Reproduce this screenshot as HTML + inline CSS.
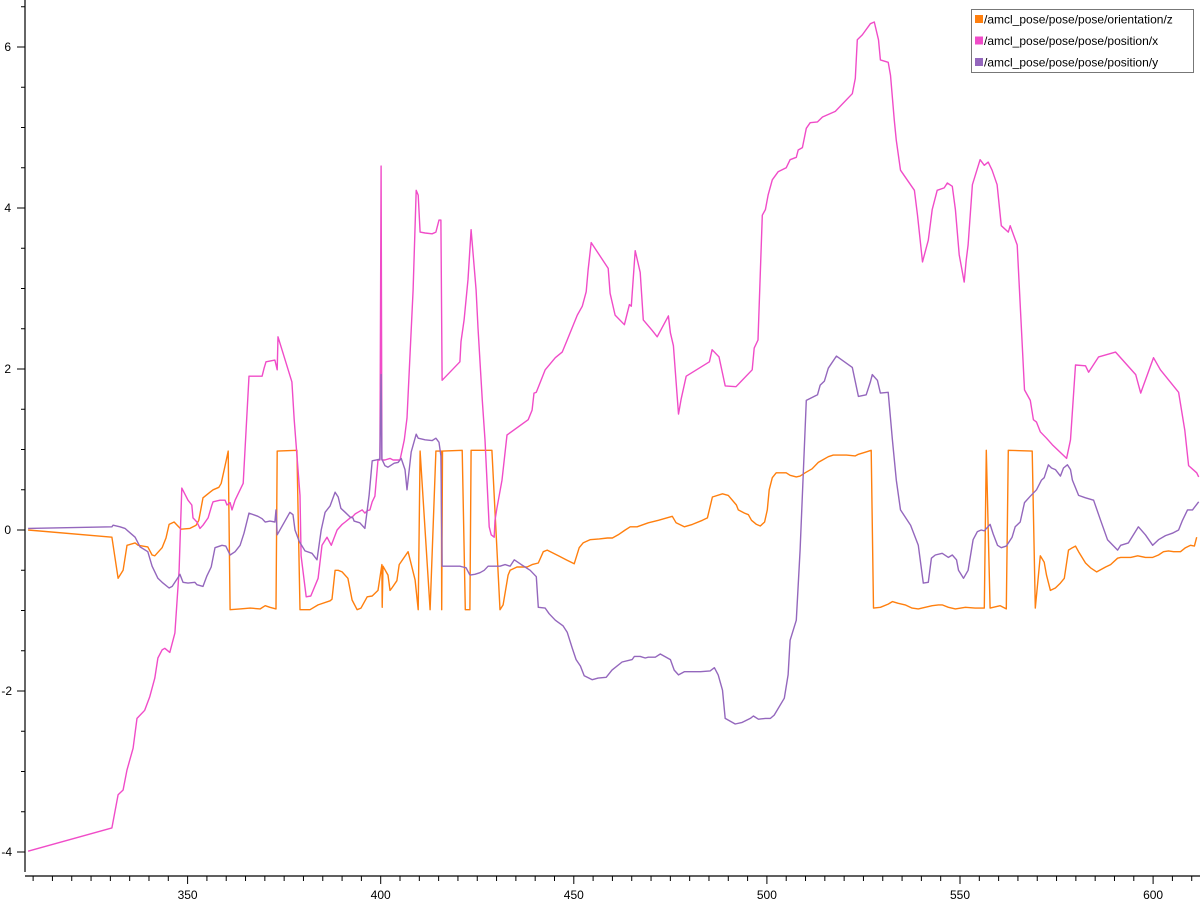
<!DOCTYPE html>
<html><head><meta charset="utf-8"><style>
html,body{margin:0;padding:0;background:#fff;}
svg{display:block;font-family:"Liberation Sans","DejaVu Sans",sans-serif;}
</style></head><body>
<svg id="chart" width="1200" height="900">
<g id="axes"></g>
<g id="series"></g>
<g id="legend"></g>
</svg>
<script>
const xTicksMajor = [350, 400, 450, 500, 550, 600];
const yTicksMajor = [-4, -2, 0, 2, 4, 6];
const seriesNames = ["/amcl_pose/pose/pose/orientation/z", "/amcl_pose/pose/pose/position/x", "/amcl_pose/pose/pose/position/y"];

const ozX = [308.7,330.4,332.0,333.3,334.3,336.4,337.2,339.7,340.8,341.5,343.4,344.4,345.2,346.5,347.5,348.3,350.6,352.2,352.9,354.0,355.8,356.6,358.1,358.7,359.9,360.5,361.0,363.6,366.2,368.8,370.1,371.3,372.9,373.2,378.3,379.1,381.7,383.8,386.9,387.4,388.2,389.0,390.0,391.5,392.6,393.9,394.9,396.5,397.8,399.3,400.3,400.4,400.6,401.9,402.4,402.9,404.2,404.8,407.1,408.9,409.7,410.2,412.8,414.3,415.7,415.8,416.0,421.1,421.9,423.1,423.4,428.8,430.9,431.7,433.0,433.5,435.3,437.9,439.2,440.8,442.1,443.1,446.0,448.0,450.1,451.4,452.4,454.2,456.6,458.7,460.0,461.5,463.3,464.6,466.4,469.3,471.9,475.5,476.5,478.6,480.7,483.3,484.6,485.9,488.5,490.0,492.1,492.6,494.2,495.2,496.0,497.3,498.3,499.4,500.1,500.6,501.4,502.4,505.0,506.0,507.6,508.6,509.9,511.7,513.3,514.4,515.9,517.2,520.6,522.9,523.7,525.7,527.0,527.6,529.4,531.4,532.5,534.0,535.8,537.6,539.2,541.0,542.8,544.4,545.4,547.0,548.8,551.4,553.9,556.3,556.8,557.8,560.4,562.0,562.5,568.7,569.5,570.8,571.8,572.4,573.4,574.7,576.0,577.0,578.1,579.1,579.9,580.7,582.5,583.8,585.4,587.7,589.0,590.8,591.6,594.2,596.0,598.0,599.9,601.4,602.7,604.0,605.3,607.1,608.4,609.7,610.7,611.3];
const ozY = [0,-0.09,-0.60,-0.50,-0.19,-0.16,-0.19,-0.21,-0.31,-0.32,-0.22,-0.10,0.07,0.10,0.05,0.01,0.02,0.06,0.12,0.40,0.47,0.50,0.53,0.58,0.84,0.98,-0.99,-0.98,-0.97,-0.98,-0.94,-0.96,-0.98,0.98,0.99,-0.99,-0.99,-0.93,-0.88,-0.86,-0.50,-0.50,-0.52,-0.60,-0.87,-0.99,-0.97,-0.83,-0.82,-0.75,-0.43,-0.96,-0.45,-0.56,-0.75,-0.72,-0.63,-0.43,-0.27,-0.62,-0.99,0.98,-0.99,0.98,0.98,-0.99,0.98,0.99,-0.99,-0.99,0.99,0.99,-0.99,-0.93,-0.56,-0.50,-0.46,-0.46,-0.43,-0.41,-0.27,-0.25,-0.32,-0.37,-0.42,-0.22,-0.16,-0.12,-0.11,-0.10,-0.10,-0.06,0,0.04,0.04,0.09,0.12,0.17,0.09,0.04,0.07,0.12,0.15,0.41,0.45,0.43,0.31,0.25,0.21,0.19,0.12,0.07,0.05,0.10,0.25,0.50,0.65,0.71,0.71,0.68,0.66,0.67,0.71,0.76,0.84,0.87,0.91,0.93,0.93,0.92,0.94,0.97,0.99,-0.97,-0.96,-0.92,-0.89,-0.91,-0.93,-0.97,-0.98,-0.96,-0.94,-0.93,-0.93,-0.96,-0.98,-0.96,-0.97,-0.97,0.99,-0.97,-0.94,-0.98,0.99,0.98,-0.97,-0.32,-0.40,-0.56,-0.75,-0.72,-0.66,-0.60,-0.25,-0.22,-0.20,-0.27,-0.41,-0.47,-0.52,-0.46,-0.43,-0.35,-0.34,-0.34,-0.32,-0.34,-0.34,-0.31,-0.27,-0.26,-0.27,-0.27,-0.22,-0.19,-0.20,-0.09];

const pxX = [308.7,330.4,332.0,333.3,334.3,335.9,336.9,338.9,340.2,341.5,342.3,343.4,344.1,345.4,346.7,347.8,348.5,350.1,351.1,351.4,352.4,353.2,354.0,355.3,356.3,356.6,358.4,359.7,360.2,361.0,361.5,362.3,364.4,365.9,369.3,369.8,370.3,372.6,373.2,373.4,377.0,377.6,379.1,379.4,380.7,381.9,383.8,384.8,386.1,387.2,388.7,390.0,390.8,392.1,392.8,393.4,394.1,395.2,395.9,396.5,397.2,397.8,398.5,399.3,399.8,400.1,400.3,401.1,402.4,403.2,405.0,406.1,406.8,408.4,409.2,409.7,410.2,411.5,413.3,414.3,415.1,415.6,415.9,420.5,420.8,421.6,422.6,423.4,424.7,425.2,426.3,427.0,428.1,428.6,429.4,429.6,430.1,431.4,432.7,438.2,439.2,439.7,440.3,442.6,445.2,447.0,448.3,450.9,452.2,453.2,453.7,454.5,458.9,459.4,460.7,463.1,464.4,464.9,465.9,467.2,468.0,470.3,471.6,474.5,475.0,475.8,477.1,477.8,479.1,485.1,485.8,487.6,489.2,492.0,496.2,496.7,497.7,498.8,499.6,500.3,501.4,502.9,505.0,506.0,507.6,508.1,509.2,510.2,511.2,513.1,514.4,517.7,522.1,522.9,523.4,524.7,526.8,527.8,528.9,529.4,531.4,532.0,533.0,533.5,534.6,538.2,539.0,540.3,541.8,542.8,544.1,545.9,546.7,548.0,548.8,549.8,551.1,551.6,552.1,553.2,555.2,556.3,557.3,558.3,559.6,560.7,562.5,563.0,564.8,566.7,568.2,569.0,569.8,570.8,572.4,573.9,577.6,578.6,579.9,582.5,583.3,585.9,590.3,595.5,596.8,600.1,601.9,606.6,608.2,609.2,611.3,611.8];
const pxY = [-3.99,-3.70,-3.29,-3.23,-2.98,-2.71,-2.34,-2.24,-2.07,-1.84,-1.59,-1.49,-1.47,-1.52,-1.28,-0.50,0.52,0.37,0.31,0.15,0.10,0.02,0.06,0.15,0.31,0.35,0.37,0.37,0.31,0.34,0.25,0.37,0.58,1.91,1.91,2.01,2.09,2.11,1.99,2.40,1.84,1.37,0.43,-0.32,-0.83,-0.82,-0.60,-0.19,-0.09,-0.19,0,0.07,0.10,0.15,0.17,0.20,0.22,0.25,0.21,0.24,0.25,0.35,0.42,0.87,0.87,4.52,0.87,0.87,0.89,0.87,0.87,1.12,1.39,2.98,4.22,4.16,3.70,3.69,3.68,3.70,3.85,3.85,1.86,2.09,2.34,2.61,3.11,3.73,2.98,2.51,1.61,1.12,0.04,-0.06,-0.09,0.12,0.27,0.62,1.18,1.37,1.49,1.70,1.71,1.99,2.14,2.21,2.36,2.67,2.78,2.96,3.23,3.57,3.25,2.94,2.67,2.55,2.80,2.78,3.47,3.20,2.61,2.48,2.40,2.66,2.45,2.29,1.44,1.63,1.91,2.09,2.24,2.15,1.79,1.78,1.99,2.26,2.36,3.91,3.98,4.16,4.35,4.45,4.50,4.60,4.63,4.72,4.75,4.99,5.06,5.07,5.13,5.20,5.42,5.61,6.09,6.15,6.29,6.31,6.09,5.84,5.81,5.65,5.09,4.84,4.47,4.22,3.91,3.33,3.60,3.98,4.22,4.25,4.31,4.27,3.98,3.42,3.08,3.35,3.54,4.29,4.60,4.53,4.57,4.47,4.29,3.78,3.70,3.78,3.54,1.74,1.61,1.37,1.34,1.22,1.14,1.06,0.89,1.12,2.05,2.04,1.96,2.15,2.21,1.93,1.70,2.14,1.99,1.71,1.24,0.80,0.71,0.66];

const pyX = [308.7,330.4,330.7,332.5,333.8,336.4,337.7,339.7,340.8,342.3,343.4,345.2,346.0,347.8,348.0,348.8,350.1,351.9,352.4,354.0,355.0,356.1,357.1,358.9,359.9,361.0,362.3,363.6,364.6,365.9,368.2,369.3,370.1,371.3,372.6,372.9,373.2,376.5,377.3,377.8,378.9,380.4,382.2,383.5,384.6,385.6,386.9,388.2,389.0,389.7,390.8,392.1,392.8,393.1,394.6,395.9,397.0,397.8,399.8,400.1,400.3,401.1,401.9,403.5,404.5,405.3,406.3,406.8,407.9,409.2,409.7,411.5,413.3,414.3,415.1,415.6,415.9,420.5,421.3,422.1,423.1,424.4,425.7,426.8,427.8,428.9,430.9,432.2,433.5,434.6,436.4,438.7,440.3,440.8,442.6,443.6,445.2,447.2,448.3,449.6,450.6,451.7,452.7,454.8,456.3,458.4,459.9,462.5,465.1,465.7,467.2,468.5,469.3,471.1,472.4,475.0,476.0,477.1,478.6,482.8,485.3,486.4,487.4,488.5,489.2,491.8,493.6,495.7,496.5,497.8,499.6,500.9,501.9,504.5,505.5,506.0,507.6,508.6,510.2,513.1,513.8,514.9,515.9,518.0,522.1,523.7,525.7,526.8,527.3,528.6,529.4,531.4,532.5,533.5,534.6,537.2,539.2,540.5,541.8,542.6,543.6,545.4,547.0,548.0,549.1,549.6,550.9,552.1,553.4,554.5,555.5,556.3,557.8,558.6,559.7,560.7,562.0,563.5,564.3,565.6,566.7,568.2,569.8,571.1,571.8,572.9,573.7,574.7,576.0,576.8,577.8,578.6,579.1,580.7,582.5,584.6,586.4,588.2,590.8,591.6,593.6,596.2,598.0,599.9,601.4,603.2,605.0,606.6,607.6,608.9,610.2,611.8];
const pyY = [0.02,0.04,0.06,0.04,0.02,-0.09,-0.21,-0.27,-0.45,-0.60,-0.65,-0.72,-0.70,-0.57,-0.55,-0.65,-0.66,-0.65,-0.68,-0.70,-0.57,-0.46,-0.22,-0.19,-0.20,-0.31,-0.27,-0.19,-0.04,0.21,0.17,0.14,0.10,0.11,0.10,0.25,-0.06,0.22,0.19,0,-0.14,-0.26,-0.29,-0.37,0,0.22,0.30,0.47,0.41,0.27,0.22,0.16,0.15,0.11,0.09,0.02,0.43,0.86,0.88,1.93,0.88,0.80,0.78,0.83,0.84,0.89,0.75,0.50,0.97,1.19,1.14,1.12,1.11,1.14,1.09,0.92,-0.45,-0.45,-0.46,-0.47,-0.56,-0.55,-0.53,-0.50,-0.45,-0.45,-0.45,-0.43,-0.45,-0.37,-0.43,-0.50,-0.58,-0.96,-0.97,-1.04,-1.12,-1.19,-1.27,-1.47,-1.61,-1.69,-1.81,-1.86,-1.84,-1.83,-1.74,-1.64,-1.61,-1.57,-1.57,-1.59,-1.58,-1.58,-1.54,-1.61,-1.74,-1.80,-1.76,-1.76,-1.75,-1.71,-1.80,-1.99,-2.34,-2.41,-2.39,-2.34,-2.31,-2.35,-2.34,-2.34,-2.30,-2.09,-1.80,-1.37,-1.12,-0.25,1.61,1.68,1.80,1.85,2.01,2.16,2.02,1.66,1.68,1.84,1.93,1.86,1.70,1.71,1.12,0.62,0.25,0.06,-0.19,-0.66,-0.65,-0.35,-0.31,-0.29,-0.34,-0.31,-0.37,-0.50,-0.60,-0.50,-0.12,-0.02,0,-0.01,0.07,-0.05,-0.19,-0.22,-0.20,-0.09,0.04,0.10,0.34,0.42,0.50,0.62,0.65,0.81,0.77,0.75,0.67,0.77,0.81,0.75,0.62,0.43,0.40,0.37,0.12,-0.12,-0.25,-0.19,-0.16,0.04,-0.06,-0.19,-0.12,-0.07,-0.04,0,0.12,0.25,0.25,0.35];

const seriesColors = ["#ff7f0e", "#f04cc8", "#9467bd"];

const NS = "http://www.w3.org/2000/svg";
const plotL = 25, plotR = 1200, plotB = 876;
function sx(v){ return 187.6 + (v - 350) * 3.862; }
function sy(v){ return 530 - v * 80.5; }
function mk(tag, attrs, parent){ const e = document.createElementNS(NS, tag); for (const k in attrs) e.setAttribute(k, attrs[k]); parent.appendChild(e); return e; }

const axes = document.getElementById('axes');
let yAxis = mk('line', {x1:plotL, y1:0, x2:plotL, y2:872, stroke:'#000', 'stroke-width':1.2}, axes);


let xAxis = mk('line', {x1:plotL, y1:plotB, x2:plotR, y2:plotB, stroke:'#000', 'stroke-width':1.2}, axes);



for (let v = 310; v <= 610; v += 5) {
  const x = sx(v); const major = xTicksMajor.indexOf(v) >= 0;
  const t = mk('line', {x1:x, y1:plotB, x2:x, y2:plotB + (major ? 8 : 5), stroke:'#000', 'stroke-width':1}, axes);
  
  
}
xTicksMajor.forEach(v => {
  const t = mk('text', {x:sx(v), y:899, 'font-size':12, 'text-anchor':'middle', fill:'#000'}, axes);
  t.textContent = v;
  
  
});
for (let v = -4.5; v <= 6.5; v += 0.5) {
  const y = sy(v); const major = yTicksMajor.indexOf(v) >= 0;
  if (y < 0 || y > 872) continue;
  const t = mk('line', {x1:plotL - (major ? 8 : 4), y1:y, x2:plotL, y2:y, stroke:'#000', 'stroke-width':1}, axes);
  
  
}
yTicksMajor.forEach(v => {
  const t = mk('text', {x:11, y:sy(v) + 4, 'font-size':12, 'text-anchor':'end', fill:'#000'}, axes);
  t.textContent = v;
  t.setAttribute('x', v < 0 ? 12 : 11);
  
  
});

const layer = document.getElementById('series');
const allSeries = [[ozX, ozY], [pxX, pxY], [pyX, pyY]];
const seriesIds = ['orientation-z-line', 'position-x-line', 'position-y-line'];
allSeries.forEach((s, i) => {
  const pts = s[0].map((xv, k) => sx(xv).toFixed(1) + ',' + sy(s[1][k]).toFixed(1)).join(' ');
  const pl = mk('polyline', {points:pts, fill:'none', stroke:seriesColors[i], 'stroke-width':1.4, 'stroke-linejoin':'round'}, layer);
  
  
});

const lg = document.getElementById('legend');
const box = mk('rect', {x:971.5, y:9.5, width:222, height:63, fill:'#fff', stroke:'#777', 'stroke-width':1}, lg);


seriesNames.forEach((n, i) => {
  const y = 19 + i * 21.5;
  const sw = mk('rect', {x:975, y:y - 4, width:8, height:8, fill:seriesColors[i]}, lg);
  
  
  const t = mk('text', {x:984, y:y + 4.5, 'font-size':12, fill:'#000'}, lg);
  t.textContent = n;
  
  
});
</script>
</body></html>
